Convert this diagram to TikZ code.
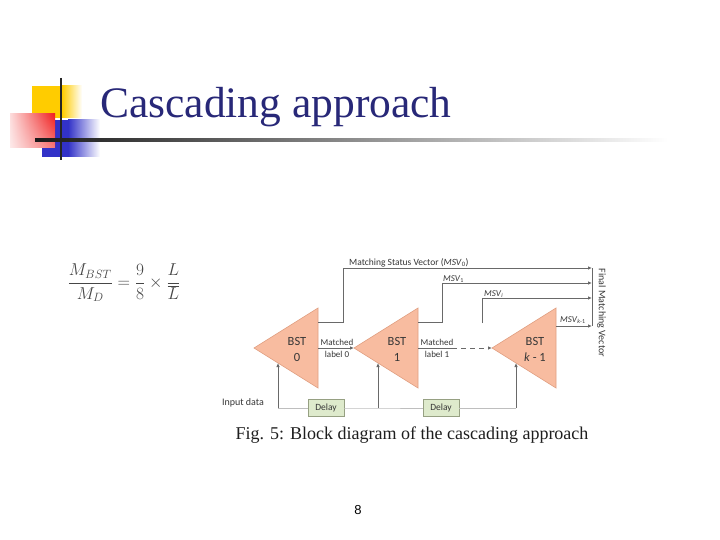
\documentclass[tikz,border=0pt]{standalone}
\usepackage[no-math]{fontspec}
\setmainfont{Liberation Serif}
\newfontfamily\diagfont{Carlito}
\newfontfamily\pagefont{Liberation Sans}
\usetikzlibrary{arrows.meta,fadings}

\begin{document}
\begin{tikzpicture}[x=1pt, y=-1pt,
    conn/.style={draw=linegray, line width=0.8pt},
    tip/.style={-{Latex[length=4pt,width=3.5pt]}},
    bstblock/.style={fill=bstfill, draw=bstedge, line width=0.6pt},
    bsttext/.style={font=\diagfont\fontsize{12.5}{13}\selectfont, text=textgray, inner sep=0pt},
    lab/.style={font=\diagfont\fontsize{9}{10}\selectfont, text=textgray, inner sep=0pt},
    delaybox/.style={draw=delayedge, fill=delayfill, line width=0.6pt,
        minimum width=36pt, minimum height=17pt, inner sep=0pt,
        font=\diagfont\fontsize{9.5}{10}\selectfont, text=textgray}]
    % -- colour definitions --------------------------------------------------
    \definecolor{titleblue}{RGB}{40,40,120}
    \definecolor{decoyellow}{RGB}{255,204,0}
    \definecolor{decoblue}{RGB}{50,50,200}
    \definecolor{decored}{RGB}{240,30,30}
    \definecolor{bstfill}{RGB}{248,188,160}
    \definecolor{bstedge}{RGB}{225,160,130}
    \definecolor{linegray}{RGB}{105,105,105}
    \definecolor{inputgray}{RGB}{190,190,190}
    \definecolor{textgray}{RGB}{55,55,55}
    \definecolor{captiongray}{RGB}{30,30,30}
    \definecolor{mathgray}{RGB}{70,70,70}
    \definecolor{delayfill}{RGB}{222,234,204}
    \definecolor{delayedge}{RGB}{150,160,130}

    \useasboundingbox (0,0) rectangle (720,540);
    \fill[white] (0,0) rectangle (720,540);

    % -- title decoration ----------------------------------------------------
    \fill[decoyellow] (32,86) rectangle (62,118);
    \shade[left color=decoyellow, right color=white] (62,86) rectangle (82,118);
    \fill[decoblue] (42,120) rectangle (68,157);
    \shade[left color=decoblue, right color=white] (68,120) rectangle (100,157);
    \shade[left color=decored!15, right color=decored] (10,114) rectangle (55,148);
    \fill[white, path fading=north, fill opacity=0.4] (10,114) rectangle (55,148);
    \draw[black!85, line width=2.5pt] (61,78) -- (61,160);
    \shade[left color=black!90, right color=white] (35,139) rectangle (668,142);

    % -- title and formula ---------------------------------------------------
    \node[anchor=base west, inner sep=0pt, text=titleblue,
          font=\fontsize{43.5}{50}\selectfont] (title) at (100,118) {Cascading approach};
    \node[text=mathgray, font=\fontsize{16.5}{19}\selectfont] (ratio) at (124,283)
        {$\displaystyle\frac{M_{BST}}{M_D}=\frac{9}{8}\times\frac{L}{\overline{L}}$};

    % -- BST blocks ----------------------------------------------------------
    \foreach \id/\ax/\num in {0/254/0, 1/354/1, k/492/{\textit{k} - 1}} {
        \filldraw[bstblock] (\ax,348) -- (\ax+64,308) -- (\ax+64,388) -- cycle;
        \node[bsttext] (bst\id-name) at (\ax+43,341) {BST};
        \node[bsttext] (bst\id-num) at (\ax+43,357) {\num};
        \coordinate (bst\id-in) at (\ax,348);
        \coordinate (bst\id-out) at (\ax+64,348);
        \coordinate (bst\id-low) at (\ax+24,363);
        \coordinate (bst\id-feed) at (\ax+24,408);
    }
    \coordinate (bst0-msv) at (318,322);
    \coordinate (bst1-msv) at (418,322);
    \coordinate (bstk-msv) at (556,326);

    % -- matched label chain -------------------------------------------------
    \coordinate (chain-gap) at (452,348);
    \draw[conn, tip] (bst0-out) -- (bst0-out -| bst1-in);
    \draw[conn] (bst1-out) -- (chain-gap);
    \draw[conn, tip, dashed, dash pattern=on 5pt off 4pt] (chain-gap) -- (bstk-in);
    \node[lab] (match0-a) at (337,342) {Matched};
    \node[lab] (match0-b) at (337,354) {label 0};
    \node[lab] (match1-a) at (437,342) {Matched};
    \node[lab] (match1-b) at (437,354) {label 1};

    % -- matching status vectors ---------------------------------------------
    \coordinate (fmv0) at (592,268);
    \coordinate (fmv1) at (592,283);
    \coordinate (fmvi) at (592,298);
    \coordinate (fmvk) at (592,326);
    \coordinate (msvi-start) at (482,323);
    \draw[conn, tip] (bst0-msv) -- ++(25,0) |- (fmv0);
    \draw[conn, tip] (bst1-msv) -- ++(24,0) |- (fmv1);
    \draw[conn, tip] (msvi-start) |- (fmvi);
    \draw[conn, tip] (bstk-msv) -- (fmvk);
    \draw[conn] (fmv0) -- (fmvk);
    \node[lab, anchor=base west, font=\diagfont\fontsize{9.5}{10}\selectfont] (msv0-lab) at (349,265)
        {Matching Status Vector (\textit{MSV}\textsubscript{0})};
    \node[lab, anchor=base west] (msv1-lab) at (443,281) {\textit{MSV}\textsubscript{1}};
    \node[lab, anchor=base west] (msvi-lab) at (484,296) {\textit{MSV}\textsubscript{\textit{i}}};
    \node[lab, anchor=base west] (msvk-lab) at (560,322) {\textit{MSV}\textsubscript{\textit{k}-1}};
    \node[lab, rotate=-90, font=\diagfont\fontsize{10}{11}\selectfont] (fmv-lab) at (601.5,313)
        {Final Matching Vector};

    % -- input data and delays -----------------------------------------------
    \node[lab, font=\diagfont\fontsize{10}{11}\selectfont] (input-lab) at (243,403) {Input data};
    \node[delaybox] (delay1) at (326,408) {Delay};
    \node[delaybox] (delay2) at (441,408) {Delay};
    \draw[inputgray, line width=0.8pt] (bst0-feed) -- (delay1.west);
    \draw[inputgray, line width=0.8pt] (delay1.east) -- (bst1-feed) -- (delay2.west);
    \draw[inputgray, line width=0.8pt] (delay2.east) -- (bstk-feed);
    \foreach \id in {0,1,k} {
        \draw[conn, tip] (bst\id-feed) -- (bst\id-low);
    }

    % -- caption and page number ---------------------------------------------
    \node[text=captiongray, font=\fontsize{18}{21}\selectfont] (caption) at (412,435)
        {Fig. 5: Block diagram of the cascading approach};
    \node[font=\pagefont\fontsize{13}{14}\selectfont] (page) at (358,510) {8};
\end{tikzpicture}
\end{document}
